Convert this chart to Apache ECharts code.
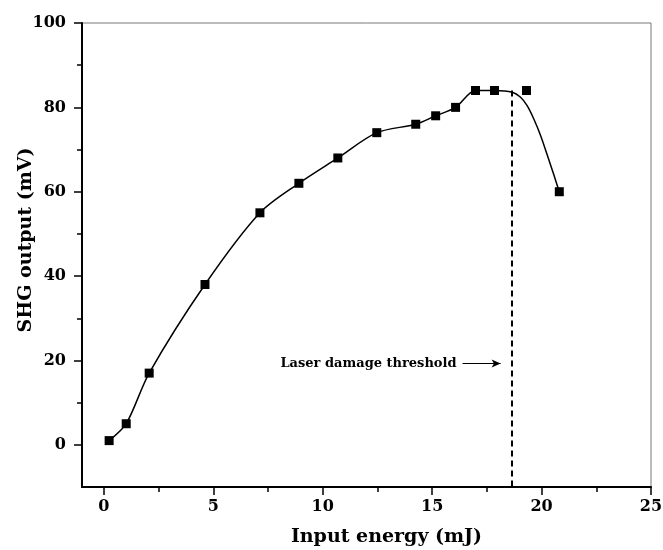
<!DOCTYPE html>
<html>
<head>
<meta charset="utf-8">
<script src="https://cdn.jsdelivr.net/npm/echarts@6/dist/echarts.min.js"></script>
<style>
  html, body { margin: 0; padding: 0; background: #fff; }
  #main { width: 663px; height: 550px; }
</style>
</head>
<body>
<div id="main"></div>
<script>
// measured points
var energy = [0.24, 1.02, 2.07, 4.62, 7.13, 8.91, 10.69, 12.47, 14.25, 15.16, 16.07, 16.98, 17.85, 19.31, 20.81];
var shg = [1, 5, 17, 38, 55, 62, 68, 74, 76, 78, 80, 84, 84, 84, 60];

// fitted curve
var fitX = [0.24, 1.02, 2.07, 4.62, 7.13, 8.91, 10.69, 12.47, 14.25, 15.16, 16.07, 16.98, 17.85, 18.66, 19.04, 19.34, 19.64, 19.95, 20.26, 20.56, 20.81];
var fitY = [1, 5, 17, 38, 55, 62, 68, 74, 76, 78, 80, 84, 84, 83.6, 82.4, 80.4, 77.3, 73.4, 68.7, 64.0, 60];

// ticks
var xTicks = [0, 5, 10, 15, 20, 25];
var xMinor = [2.5, 7.5, 12.5, 17.5, 22.5];
var yTicks = [0, 20, 40, 60, 80, 100];
var yMinor = [10, 30, 50, 70, 90];

// threshold annotation
var thresholdX = 18.63;
var thresholdTop = 84;
var arrowX = [16.39, 18.13];
var arrowY = 19.3;

var font = 'DejaVu Serif';

var myChart = echarts.init(document.getElementById('main'));

function pairs(xs, ys) {
    var out = [];
    for (var i = 0; i < xs.length; i++) out.push([xs[i], ys[i]]);
    return out;
}

var option = {
    backgroundColor: '#fff',
    animation: false,
    grid: {
        left: 82,
        right: 12,
        top: 23,
        bottom: 63,
        outerBoundsMode: 'none',
        containLabel: false,
        show: true,
        borderColor: '#777',
        borderWidth: 1
    },
    xAxis: [
        {
            type: 'value',
            min: -1,
            max: 25,
            position: 'bottom',
            name: 'Input energy (mJ)',
            nameLocation: 'middle',
            nameGap: 41,
            nameMoveOverlap: false,
            nameTextStyle: {
                fontFamily: font, fontWeight: 'bold', fontSize: 19, color: '#000',
                padding: [0, 0, 0, 40]
            },
            splitLine: { show: false },
            axisLine: { onZero: false, lineStyle: { color: '#000', width: 2 } },
            axisTick: { customValues: xTicks, length: 8, lineStyle: { color: '#000', width: 1.5 } },
            axisLabel: {
                customValues: xTicks, margin: 12,
                fontFamily: font, fontWeight: 'bold', fontSize: 16, color: '#000'
            }
        },
        {
            type: 'value',
            min: -1,
            max: 25,
            position: 'bottom',
            splitLine: { show: false },
            axisLine: { show: false, onZero: false },
            axisTick: { customValues: xMinor, length: 5, lineStyle: { color: '#000', width: 1.5 } },
            axisLabel: { show: false }
        }
    ],
    yAxis: [
        {
            type: 'value',
            min: -10,
            max: 100,
            position: 'left',
            name: 'SHG output (mV)',
            nameLocation: 'middle',
            nameGap: 46,
            nameMoveOverlap: false,
            nameTextStyle: {
                fontFamily: font, fontWeight: 'bold', fontSize: 19, color: '#000',
                padding: [0, 0, 0, 30]
            },
            splitLine: { show: false },
            axisLine: { onZero: false, lineStyle: { color: '#000', width: 2 } },
            axisTick: { customValues: yTicks, length: 8, lineStyle: { color: '#000', width: 1.5 } },
            axisLabel: {
                customValues: yTicks, margin: 16,
                fontFamily: font, fontWeight: 'bold', fontSize: 16, color: '#000'
            }
        },
        {
            type: 'value',
            min: -10,
            max: 100,
            position: 'left',
            splitLine: { show: false },
            axisLine: { show: false, onZero: false },
            axisTick: { customValues: yMinor, length: 5, lineStyle: { color: '#000', width: 1.5 } },
            axisLabel: { show: false }
        }
    ],
    series: [
        {
            name: 'fit',
            type: 'line',
            smooth: 0.3,
            showSymbol: false,
            data: pairs(fitX, fitY),
            lineStyle: { color: '#000', width: 1.5 },
            z: 2
        },
        {
            name: 'SHG',
            type: 'scatter',
            symbol: 'rect',
            symbolSize: 9,
            data: pairs(energy, shg),
            itemStyle: { color: '#000', opacity: 1 },
            z: 3,
            markLine: {
                silent: true,
                animation: false,
                data: [
                    [
                        { coord: [thresholdX, thresholdTop], symbol: 'none' },
                        { coord: [thresholdX, -10], symbol: 'none' }
                    ],
                    [
                        {
                            coord: [arrowX[0], arrowY], symbol: 'none',
                            lineStyle: { type: 'solid', width: 1 },
                            label: {
                                show: true, position: 'start', distance: 6,
                                formatter: 'Laser damage threshold',
                                fontFamily: font, fontWeight: 'bold', fontSize: 13, color: '#000'
                            }
                        },
                        { coord: [arrowX[1], arrowY], symbol: 'arrow', symbolSize: [6, 9] }
                    ]
                ],
                label: { show: false },
                lineStyle: { color: '#000', width: 2, type: [6, 4] }
            }
        }
    ]
};

myChart.setOption(option);
</script>
</body>
</html>
